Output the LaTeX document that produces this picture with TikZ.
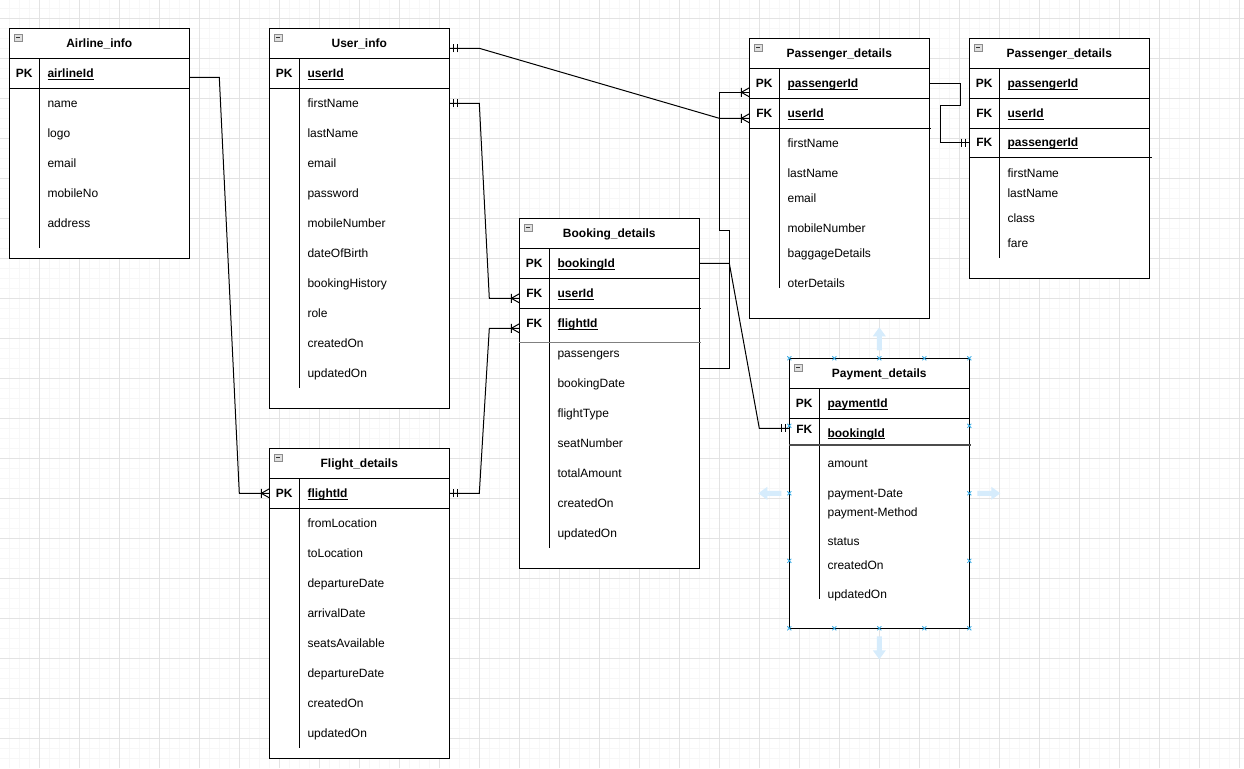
\documentclass[tikz,border=0pt]{standalone}
\usepackage{fontspec}
\setmainfont{Liberation Sans}
\usetikzlibrary{calc}

\definecolor{selblue}{RGB}{52,170,230}
\definecolor{nudgeblue}{RGB}{214,236,252}

% underlined key column name, rule kept at one height
\newcommand{\keyname}[1]{\setbox0\hbox{#1}\rlap{\rule[-1.6pt]{\wd0}{0.7pt}}\box0}

\begin{document}
\begin{tikzpicture}[
    x=0.75pt, y=-0.75pt,
    tbl/.style={draw=black, line width=0.75pt, fill=white},
    sep/.style={draw=black, line width=0.75pt},
    title/.style={anchor=base, inner sep=0pt, font=\fontsize{9}{11}\selectfont\bfseries},
    key/.style={anchor=base, inner sep=0pt, font=\fontsize{9}{11}\selectfont\bfseries},
    col/.style={anchor=base west, inner sep=0pt, font=\fontsize{9}{11}\selectfont},
    pkcol/.style={col, font=\fontsize{9}{11}\selectfont\bfseries},
    rel/.style={draw=black, line width=0.75pt},
    minor/.style={draw=black!3, line width=0.75pt},
    major/.style={draw=black!11, line width=0.75pt},
    pics/mandone/.style={code={\draw[rel] (-4,-4) -- (-4,4) (-8,-4) -- (-8,4);}},
    pics/onemany/.style={code={\draw[rel] (-8,-4.5) -- (-8,4.5) (0,-4.5) -- (-8,0) -- (0,4.5);}},
    pics/fold/.style={code={\draw[draw=black!45, fill=black!12, line width=0.5pt] (5,6) rectangle (13,13);
                            \draw[black!80, line width=0.75pt] (7,9.5) -- (11,9.5);}},
    pics/hmark/.style={code={\draw[selblue, line width=0.6pt] (-2,-2) -- (2,2) (-2,2) -- (2,-2);}},
    pics/nudge/.style={code={\fill[nudgeblue] (0,-2.5) -- (14,-2.5) -- (14,-6.5) -- (23,0) -- (14,6.5) -- (14,2.5) -- (0,2.5) -- cycle;}}
]
    % Canvas and grid
    \useasboundingbox (-9.3,-8.3) rectangle (1234.7,759.7);
    \fill[white] (-9.3,-8.3) rectangle (1234.7,759.7);
    \foreach \gx in {0,10,...,1230} \draw[minor] (\gx,-8.3) -- (\gx,759.7);
    \foreach \gy in {0,10,...,750} \draw[minor] (-9.3,\gy) -- (1234.7,\gy);
    \foreach \gx in {-10,30,...,1230} \draw[major] (\gx,-8.3) -- (\gx,759.7);
    \foreach \gy in {10,50,...,730} \draw[major] (-9.3,\gy) -- (1234.7,\gy);

    % Airline_info
    \draw[tbl] (0,20) rectangle (180,250);
    \draw[sep] (0,50) -- (180,50) (0,80) -- (180,80) (30,50) -- (30,240);
    \pic at (0,20) {fold};
    \node[title] (airline) at (90,39) {Airline\_info};
    \node[key] at (15,69.3) {PK};
    \node[pkcol] at (38,69.3) {\keyname{airlineId}};
    \foreach \f [count=\i from 0] in {name,logo,email,mobileNo,address}
        \node[col] at (38,99.3+30*\i) {\f};

    % User_info
    \draw[tbl] (260,20) rectangle (440,400);
    \draw[sep] (260,50) -- (440,50) (260,80) -- (440,80) (290,50) -- (290,380);
    \pic at (260,20) {fold};
    \node[title] (user) at (350,39) {User\_info};
    \node[key] at (275,69.3) {PK};
    \node[pkcol] at (298,69.3) {\keyname{userId}};
    \foreach \f [count=\i from 0] in {firstName,lastName,email,password,mobileNumber,dateOfBirth,bookingHistory,role,createdOn,updatedOn}
        \node[col] at (298,99.3+30*\i) {\f};

    % Flight_details
    \draw[tbl] (260,440) rectangle (440,750);
    \draw[sep] (260,470) -- (440,470) (260,500) -- (440,500) (290,470) -- (290,740);
    \pic at (260,440) {fold};
    \node[title] (flight) at (350,459) {Flight\_details};
    \node[key] at (275,489.3) {PK};
    \node[pkcol] at (298,489.3) {\keyname{flightId}};
    \foreach \f [count=\i from 0] in {fromLocation,toLocation,departureDate,arrivalDate,seatsAvailable,departureDate,createdOn,updatedOn}
        \node[col] at (298,519.3+30*\i) {\f};

    % Booking_details
    \draw[tbl] (510,210) rectangle (690,560);
    \draw[sep] (510,240) -- (690,240) (510,270) -- (690,270) (510,300) -- (691.7,300) (540,240) -- (540,540);
    \draw[draw=black!50, line width=1.1pt] (510,334.4) -- (691.7,334.4);
    \pic at (510,210) {fold};
    \node[title] (booking) at (600,229) {Booking\_details};
    \node[key] at (525,259.3) {PK};
    \node[pkcol] at (548,259.3) {\keyname{bookingId}};
    \node[key] at (525,289.3) {FK};
    \node[pkcol] at (548,289.3) {\keyname{userId}};
    \node[key] at (525,319.3) {FK};
    \node[pkcol] at (548,319.3) {\keyname{flightId}};
    \foreach \f [count=\i from 0] in {passengers,bookingDate,flightType,seatNumber,totalAmount,createdOn,updatedOn}
        \node[col] at (548,348.7+30*\i) {\f};

    % Passenger_details (left)
    \draw[tbl] (740,30) rectangle (920,310);
    \draw[sep] (740,60) -- (920,60) (740,90) -- (920,90) (740,120) -- (921.7,120) (770,60) -- (770,280);
    \pic at (740,30) {fold};
    \node[title] (passenger) at (830,49) {Passenger\_details};
    \node[key] at (755,79.3) {PK};
    \node[pkcol] at (778,79.3) {\keyname{passengerId}};
    \node[key] at (755,109.3) {FK};
    \node[pkcol] at (778,109.3) {\keyname{userId}};
    \foreach \f/\yy in {firstName/138.7,lastName/168.7,email/193.7,mobileNumber/223.7,baggageDetails/248.7,oterDetails/278.7}
        \node[col] at (778,\yy) {\f};

    % Passenger_details (right)
    \draw[tbl] (960,30) rectangle (1140,270);
    \draw[sep] (960,60) -- (1140,60) (960,90) -- (1140,90) (960,120) -- (1140,120) (960,149.4) -- (1142.7,149.4) (990,60) -- (990,250);
    \pic at (960,30) {fold};
    \node[title] (passengerb) at (1050,49) {Passenger\_details};
    \node[key] at (975,79.3) {PK};
    \node[pkcol] at (998,79.3) {\keyname{passengerId}};
    \node[key] at (975,109.3) {FK};
    \node[pkcol] at (998,109.3) {\keyname{userId}};
    \node[key] at (975,138.5) {FK};
    \node[pkcol] at (998,138.5) {\keyname{passengerId}};
    \foreach \f/\yy in {firstName/168.7,lastName/188.7,class/213.7,fare/238.7}
        \node[col] at (998,\yy) {\f};

    % Payment_details
    \draw[tbl] (780,350) rectangle (960,620);
    \draw[sep] (780,380) -- (960,380) (780,410) -- (960,410) (810,380) -- (810,591);
    \draw[draw=black!70, line width=0.9pt] (780,436.7) -- (961.7,436.7);
    \pic at (780,350) {fold};
    \node[title] (payment) at (870,369) {Payment\_details};
    \node[key] at (795,399.3) {PK};
    \node[pkcol] at (818,399.3) {\keyname{paymentId}};
    \node[key] at (795,425.3) {FK};
    \node[pkcol] at (818,428.7) {\keyname{bookingId}};
    \foreach \f/\yy in {amount/458.7,payment-Date/488.7,payment-Method/507.7,status/536.7,createdOn/561,updatedOn/590}
        \node[col] at (818,\yy) {\f};

    % Attach points on the table edges
    \coordinate (airline-pk)  at (180,69);
    \coordinate (flight-pkw)  at (260,485);
    \coordinate (flight-pke)  at (440,485);
    \coordinate (user-top)    at (440,40);
    \coordinate (user-first)  at (440,95);
    \coordinate (book-user)   at (510,290);
    \coordinate (book-flight) at (510,320);
    \coordinate (book-pk)     at (690,255);
    \coordinate (book-pass)   at (690,360);
    \coordinate (pass-pk)     at (740,84);
    \coordinate (pass-fk)     at (740,110);
    \coordinate (pass-pke)    at (920,75);
    \coordinate (passb-fk)    at (960,134.4);
    \coordinate (pay-fk)      at (780,420);

    % Relationships
    \draw[rel] (airline-pk) -- ++(30,0) -- ($(flight-pkw)+(-30,0)$) -- (flight-pkw);
    \draw[rel] (user-top) -- ++(30,0) -- ($(pass-fk)+(-30,0)$) -- (pass-fk);
    \draw[rel] (user-first) -- ++(30,0) -- ($(book-user)+(-30,0)$) -- (book-user);
    \draw[rel] (flight-pke) -- ++(30,0) -- ($(book-flight)+(-30,0)$) -- (book-flight);
    \draw[rel] (book-pk) -- ++(30,0) -- ($(pay-fk)+(-30,0)$) -- (pay-fk);
    \draw[rel] (book-pass) -- ++(30,0) -- ++(0,-138.3) -- ++(-10,0) |- (pass-pk);
    \draw[rel] (pass-pke) -- ++(30.7,0) -- ++(0,22.4) -- ++(-20,0) |- (passb-fk);

    % Cardinality marks
    \pic at (flight-pkw) {onemany};
    \pic at (pass-fk) {onemany};
    \pic at (pass-pk) {onemany};
    \pic at (book-user) {onemany};
    \pic at (book-flight) {onemany};
    \pic[rotate=180] at (user-top) {mandone};
    \pic[rotate=180] at (user-first) {mandone};
    \pic[rotate=180] at (flight-pke) {mandone};
    \pic at (pay-fk) {mandone};
    \pic at (passb-fk) {mandone};

    % Selection handles round Payment_details
    \foreach \t in {0,0.25,0.5,0.75,1} {
        \pic at (780+180*\t,350) {hmark};
        \pic at (780+180*\t,620) {hmark};
    }
    \foreach \t in {0.25,0.5,0.75} {
        \pic at (780,350+270*\t) {hmark};
        \pic at (960,350+270*\t) {hmark};
    }
    \pic[rotate=90]  at (870,342) {nudge};
    \pic[rotate=-90] at (870,628) {nudge};
    \pic[rotate=180] at (772,485) {nudge};
    \pic at (968,485) {nudge};

\end{tikzpicture}
\end{document}
